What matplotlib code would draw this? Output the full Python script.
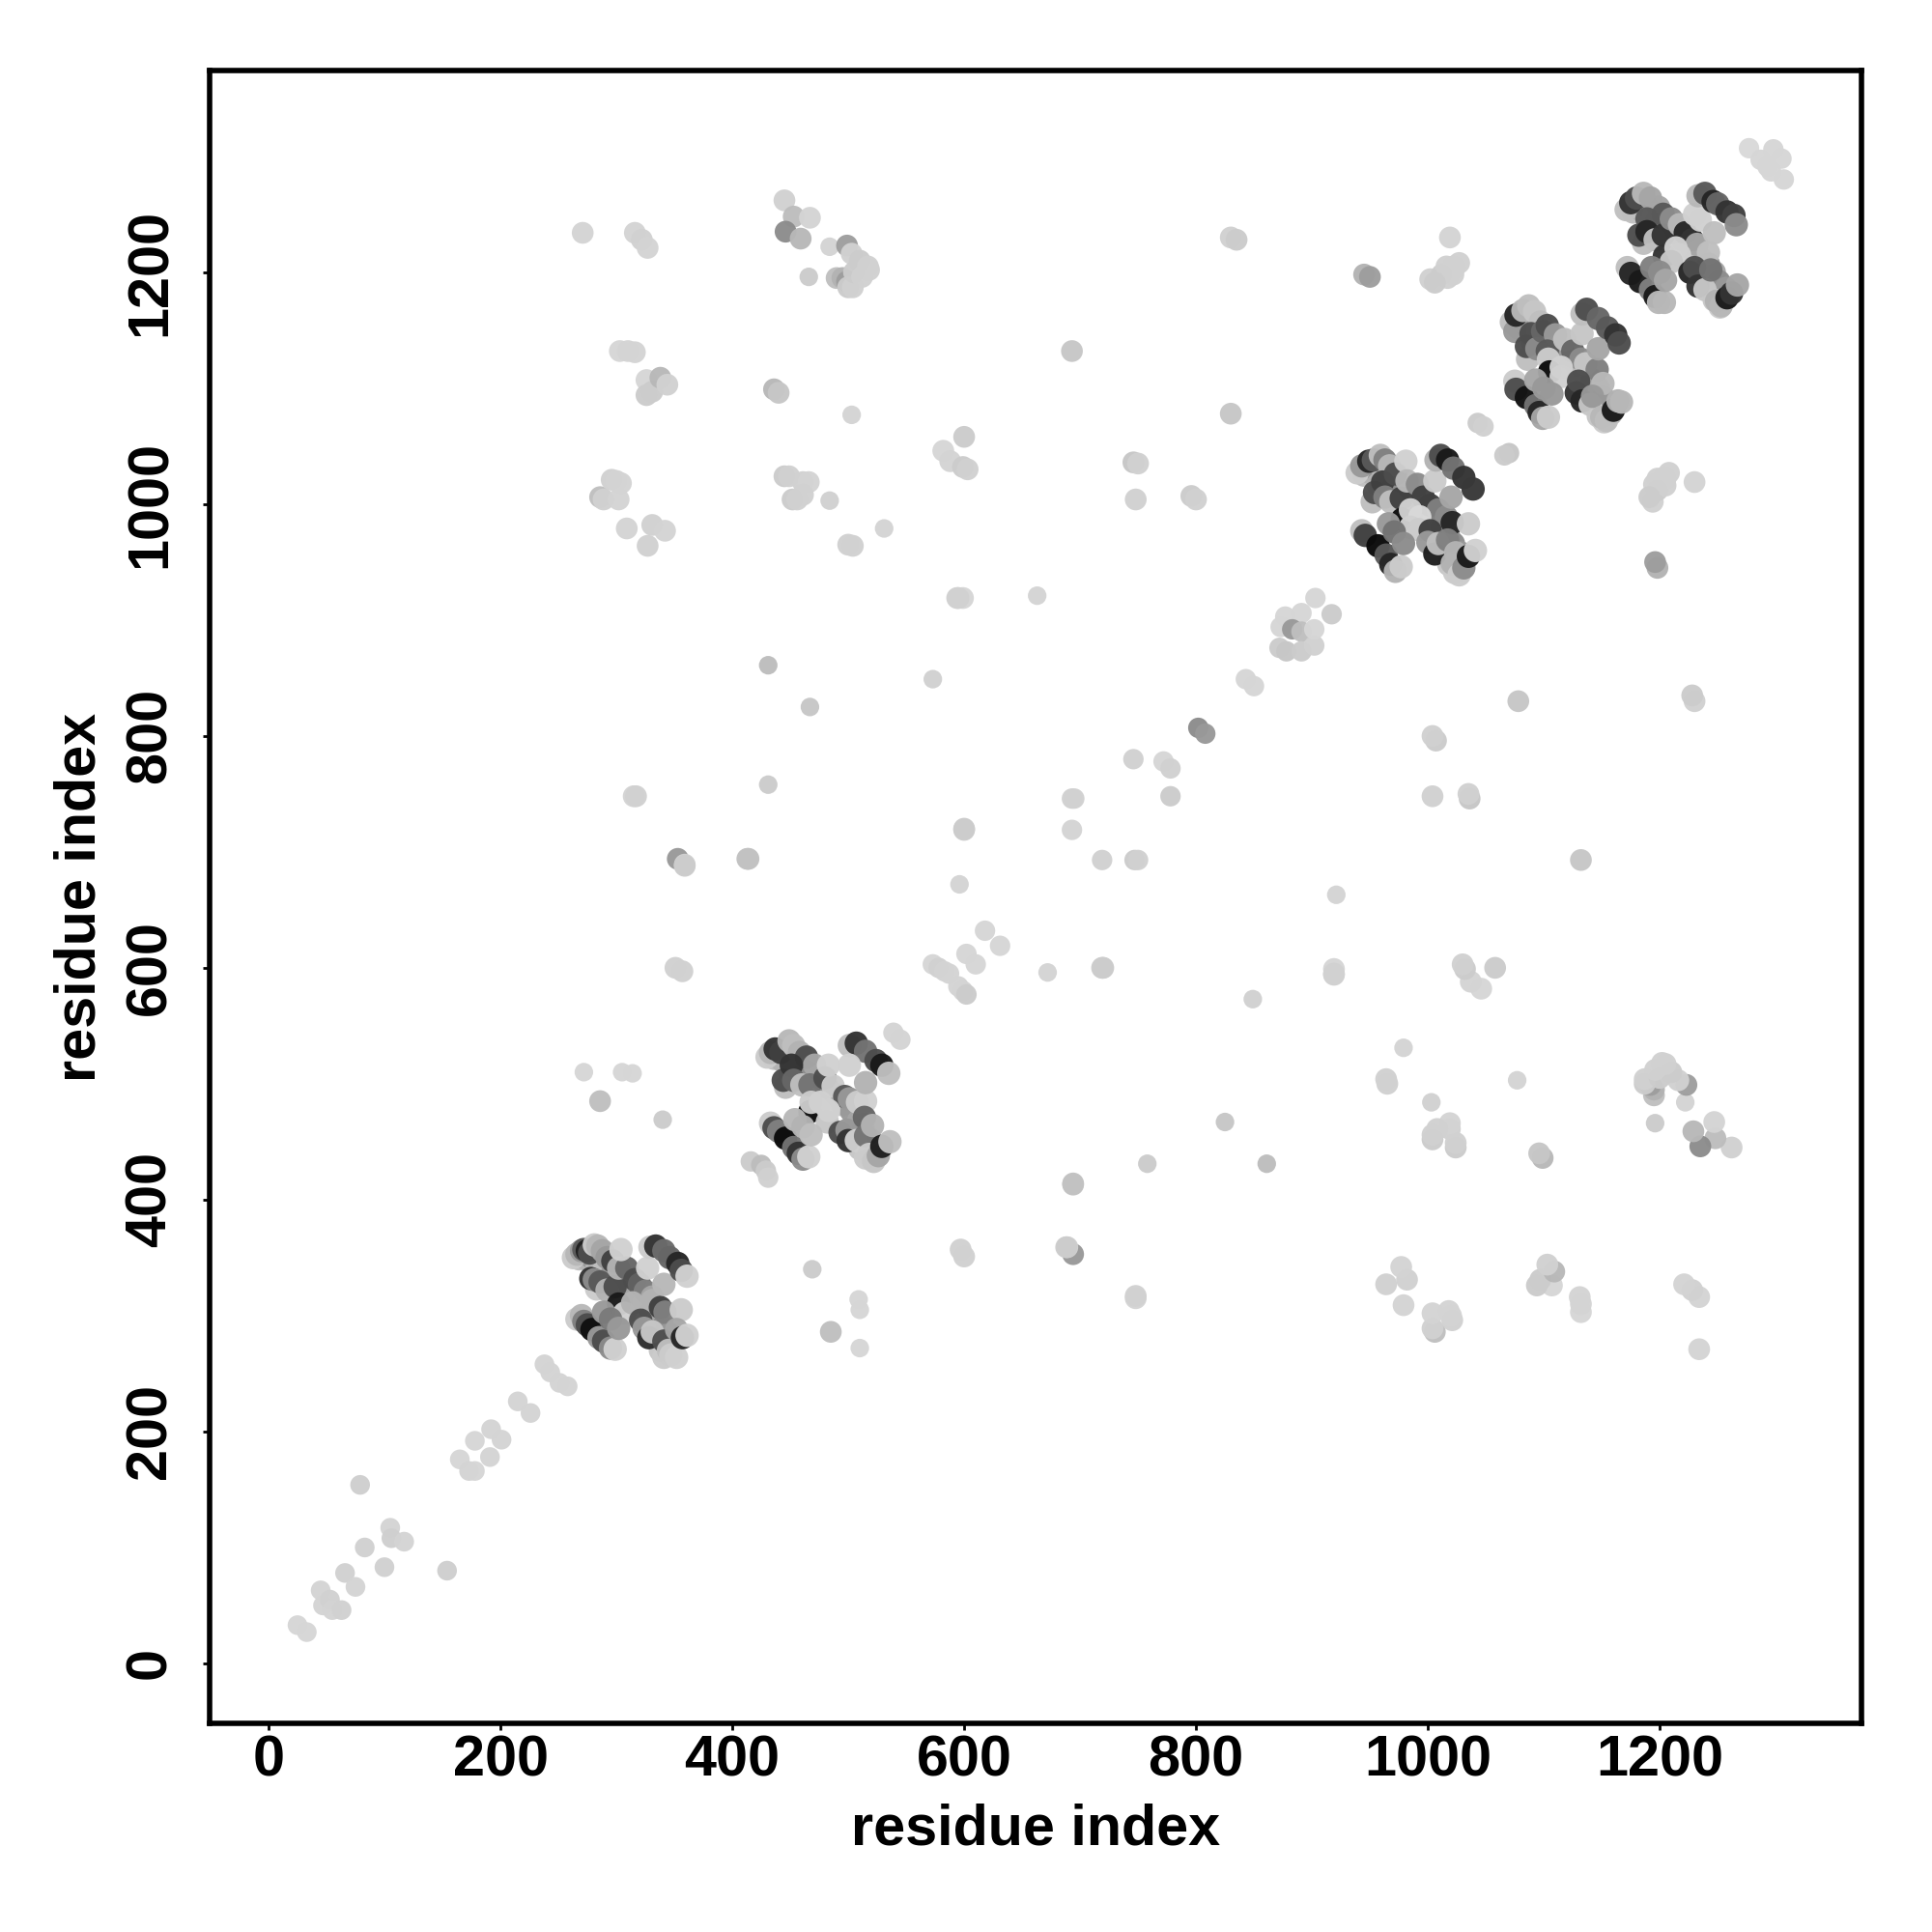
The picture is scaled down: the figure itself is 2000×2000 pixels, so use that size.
import matplotlib
matplotlib.use("Agg")
import matplotlib.pyplot as plt

plt.rcParams['font.family'] = ['Liberation Sans', 'DejaVu Sans']

axis_title = "residue index"
tick_values = [0, 200, 400, 600, 800, 1000, 1200]

# low-index points close to the diagonal (x, y, grey)
near_diagonal_low = [
 (25,33,.84),(33,27,.84),(45,63,.83),(47,50,.83),(53,55,.82),(55,46,.83),(63,46,.82),(66,78,.82),(75,66,.83),
 (79,154,.81),(83,100,.82),(100,83,.82),(105,117,.83),(106,108,.81),(117,105,.83),(154,80,.81),
 (165,176,.84),(173,166,.83),(178,166,.84),(178,192,.84),(192,202,.83),(191,178,.83),(201,193,.83),
 (215,226,.83),(226,216,.83),(238,258,.83),(243,251,.83),(251,242,.83),(258,239,.83),
]
# other points close to the diagonal
near_diagonal = [
 (416,433,.8),(425,430,.74),(429,425,.8),(431,419,.82),(539,544,.83),(545,538,.83),
 (573,603,.84),(578,600,.82),(583,597,.83),(587,595,.83),(595,584,.83),(599,580,.83),(602,577,.8),
 (602,612,.84),(610,603,.84),(618,632,.84),(631,619,.84),
 (693,719,.83),(719,693,.82),(693,746,.82),(695,746,.82),(747,693,.8),(750,693,.82),(746,780,.82),(778,748,.8),(772,778,.84),(778,772,.82),
 (802,807,.55),(808,802,.6),(843,849,.84),(850,843,.84),
 (872,876,.8),(877,903,.84),(878,873,.78),(873,894,.84),(891,906,.84),(883,892,.6),(891,890,.75),(891,873,.8),
 (902,878,.82),(902,892,.84),(903,919,.84),(917,905,.8),
 (1043,1070,.8),(1048,1067,.82),(1070,1044,.78),(1066,1042,.8),
 (1277,1307,.85),(1287,1297,.84),(1293,1291,.84),(1298,1306,.84),(1305,1298,.84),(1307,1280,.84),(1296,1287,.84),
]

# off-diagonal contacts above the diagonal; the map holds each also mirrored
contacts_upper = [
 (271,1234,.83),(316,1234,.83),(322,1228,.82),(327,1221,.83),(303,1132,.84),(310,1132,.83),(316,1131,.83),
 (326,1107,.84),(326,1094,.8),(331,1097,.8),(338,1109,.72),(344,1103,.82),(286,1006,.75),(289,1004,.82),(296,1021,.82),(300,1020,.83),(304,1018,.83),
 (302,1004,.83),(309,979,.83),(331,982,.82),(342,977,.83),(327,964,.82),
 (445,1262,.82),(453,1248,.74),(467,1247,.83),(446,1235,.55),(459,1229,.72),(499,1223,.62),(503,1216,.82),
 (490,1195,.75),(495,1195,.7),(499,1192,.62),(500,1187,.8),(504,1187,.82),(505,1200,.8),(510,1210,.8),(512,1196,.82),(517,1205,.82),(518,1202,.82),
 (436,1099,.72),(440,1096,.78),(445,1024,.8),(449,1024,.82),(461,1019,.82),(466,1019,.83),(452,1004,.8),(456,1004,.82),(461,1008,.82),
 (500,965,.82),(504,964,.82),(582,1046,.84),(600,1058,.8),(588,1037,.83),(599,1032,.8),(603,1030,.82),(594,919,.82),(599,919,.84),
 (693,1132,.78),(746,1036,.78),(750,1035,.82),(748,1004,.82),(796,1007,.8),(800,1004,.82),
 (830,1230,.82),(835,1228,.8),(830,1078,.78),(945,1198,.7),(950,1196,.62),
 (1002,1194,.82),(1012,1198,.8),(1017,1195,.82),(1016,1205,.82),(1022,1205,.82),(1027,1208,.82),(1022,1198,.82),(1019,1230,.83),(1006,1191,.8),(1023,1204,.82),
 (315,748,.83),(353,694,.6),(359,689,.82),(351,600,.82),(357,597,.82),(413,694,.76),(600,720,.8),
 (286,485,.75),(600,719,.8),(414,694,.76),(359,688,.8),(317,748,.82),(595,919,.82),
]
# smaller single contacts above the diagonal, also mirrored
contacts_small = [
 (484,1222,.83),(466,1196,.8),(484,1003,.82),(503,1077,.83),(531,979,.83),(663,921,.83),(431,861,.74),(573,849,.82),
 (467,825,.78),(431,758,.8),(596,672,.83),(272,510,.84),(305,510,.84),(314,509,.84),(340,469,.8),
]

# dense diagonal blocks (x, y, grey), drawn in this order
block_1 = [
 (268,349,.75),(274,349,.7),(279,350,.6),(285,352,.78),(283,340,.7),(290,342,.75),(283,323,.8),(291,330,.65),(296,335,.6),
 (306,333,.55),(312,325,.6),(318,318,.65),(324,311,.75),(330,303,.6),(336,297,.65),(340,290,.55),(346,284,.6),(338,270,.78),(341,264,.8),(347,275,.7),
 (263,350,.8),(266,353,.72),(270,356,.6),(272,357,.35),(275,356,.12),(277,354,.3),(281,361,.8),(284,360,.72),
 (288,356,.65),(292,350,.6),(278,332,.2),(281,331,.55),(286,329,.35),(292,322,.7),(299,325,.3),(297,347,.25),
 (302,341,.7),(309,341,.4),(304,357,.82),(316,331,.3),(320,327,.38),(325,321,.5),(331,316,.65),(331,313,.7),
 (338,307,.25),(342,303,.5),(302,310,.1),(307,302,.82),(314,311,.7),(327,341,.82),(341,327,.72),(356,305,.8),
 (329,359,.8),(334,360,.2),(341,356,.42),(346,350,.4),(353,345,.15),(356,339,.3),(361,334,.82),
 (266,297,.8),(270,300,.72),(272,295,.5),(275,292,.3),(279,288,.06),(285,281,.6),(289,278,.3),(295,272,.55),(299,271,.82),
 (289,303,.6),(295,297,.48),(302,289,.6),(321,296,.3),(324,289,.6),(328,281,.18),(331,286,.78),(341,278,.3),
 (345,270,.75),(347,266,.8),(352,264,.82),(352,288,.65),(357,281,.15),(361,283,.82),
]
block_2 = [
 (436,522,.75),(443,520,.7),(448,524,.6),(456,520,.75),(450,510,.7),(458,512,.65),(446,497,.75),(459,505,.6),(465,510,.55),
 (474,506,.55),(482,497,.6),(489,491,.65),(495,482,.75),(503,476,.6),(509,468,.65),(513,460,.55),(519,452,.6),(510,444,.78),(515,436,.8),(522,445,.7),
 (430,523,.8),(433,527,.72),(437,530,.2),(442,527,.25),(449,537,.72),(453,533,.75),(458,527,.7),(464,523,.3),(471,516,.65),
 (444,503,.3),(451,516,.2),(453,503,.4),(460,499,.75),(467,499,.45),(480,505,.3),(483,516,.82),(487,498,.8),
 (497,489,.35),(501,487,.6),(508,484,.8),(515,485,.82),(467,476,.05),(468,484,.8),(476,484,.82),(482,467,.78),(483,477,.82),
 (501,533,.75),(507,535,.2),(515,528,.45),(524,520,.3),(529,516,.1),(535,509,.75),(501,516,.82),(515,501,.7),
 (433,466,.8),(436,462,.3),(440,459,.5),(446,453,.04),(453,445,.45),(457,440,.2),(461,435,.55),(466,437,.82),
 (454,469,.72),(461,463,.7),(468,456,.75),(493,458,.3),(499,460,.6),(500,451,.2),(507,451,.82),(514,471,.4),
 (515,455,.45),(521,464,.7),(518,439,.8),(522,433,.78),(526,438,.65),(529,446,.12),(536,450,.75),
]
block_3 = [
 (945,1025,.75),(951,1027,.7),(956,1029,.6),(962,1027,.75),(957,1017,.7),(965,1019,.65),(952,1002,.75),(965,1012,.6),(971,1016,.55),
 (984,1010,.55),(992,1001,.6),(999,993,.65),(1005,986,.75),(1012,979,.6),(1018,972,.65),(1022,966,.55),(1028,958,.6),(1018,948,.78),(1023,941,.8),(1029,950,.7),
 (939,1027,.8),(943,1033,.6),(949,1037,.15),(953,1038,.35),(959,1042,.75),(963,1038,.5),(967,1033,.72),
 (954,1010,.3),(961,1019,.25),(963,1006,.5),(968,1002,.75),(977,1005,.25),(972,1026,.3),(981,1037,.82),(982,1020,.72),
 (991,1017,.55),(996,1006,.25),(1002,999,.25),(1009,995,.5),(1016,989,.55),(1021,984,.15),(978,987,.05),(985,995,.82),
 (993,989,.85),(985,980,.82),(992,978,.8),(1006,1020,.8),(1020,1006,.65),(1035,983,.8),
 (1007,1038,.7),(1011,1042,.3),(1017,1038,.1),(1022,1031,.45),(1031,1023,.2),(1039,1013,.22),
 (943,977,.75),(946,973,.25),(957,964,.04),(964,956,.35),(968,948,.15),(972,942,.7),(977,946,.8),
 (966,983,.6),(971,976,.45),(979,966,.55),(1002,977,.25),(1000,967,.6),(1006,957,.12),(1009,966,.75),(1017,969,.5),
 (1024,958,.7),(1021,949,.7),(1027,939,.8),(1031,945,.55),(1035,955,.1),(1041,960,.82),
]
block_4 = [
 (1078,1152,.75),(1083,1155,.7),(1089,1158,.6),(1095,1150,.75),(1090,1140,.7),(1097,1142,.65),(1086,1125,.75),(1098,1136,.6),(1105,1140,.55),
 (1112,1135,.55),(1120,1127,.6),(1128,1120,.65),(1134,1112,.75),(1142,1107,.6),(1147,1100,.65),(1151,1092,.55),(1157,1085,.6),(1147,1076,.78),(1152,1071,.8),(1158,1078,.7),
 (1072,1157,.75),(1075,1149,.6),(1076,1163,.15),(1082,1167,.72),(1087,1171,.75),(1092,1166,.78),(1097,1157,.75),
 (1085,1136,.3),(1089,1147,.3),(1094,1134,.55),(1099,1149,.4),(1103,1154,.3),(1110,1146,.6),(1103,1132,.35),(1104,1125,.8),
 (1118,1142,.75),(1125,1132,.4),(1133,1147,.78),(1132,1125,.55),(1136,1121,.78),(1146,1116,.5),(1147,1134,.65),
 (1105,1114,.05),(1115,1118,.82),(1115,1110,.82),(1151,1104,.72),
 (1133,1164,.75),(1137,1168,.3),(1147,1160,.4),(1155,1152,.35),(1162,1146,.2),(1165,1139,.3),
 (1075,1106,.8),(1076,1099,.3),(1085,1092,.07),(1093,1085,.45),(1096,1079,.15),(1099,1074,.65),(1104,1075,.8),
 (1093,1107,.65),(1100,1100,.6),(1107,1095,.6),(1128,1096,.2),(1130,1106,.3),(1133,1089,.15),(1140,1086,.78),(1142,1093,.6),
 (1150,1075,.72),(1154,1072,.75),(1160,1081,.1),(1164,1089,.7),(1167,1088,.72),
]
block_5 = [
 (1177,1252,.75),(1183,1254,.7),(1189,1257,.6),(1195,1250,.75),(1190,1240,.7),(1197,1243,.65),(1186,1225,.75),(1198,1236,.6),(1205,1240,.55),
 (1212,1236,.55),(1220,1228,.6),(1228,1220,.65),(1235,1212,.75),(1242,1207,.6),(1247,1200,.65),(1251,1192,.55),(1257,1186,.6),(1247,1176,.78),(1252,1170,.8),(1258,1178,.7),
 (1171,1254,.75),(1175,1260,.2),(1180,1264,.3),(1186,1268,.72),(1192,1264,.65),(1199,1256,.65),(1203,1250,.35),
 (1182,1232,.3),(1189,1246,.35),(1189,1235,.15),(1196,1228,.75),(1203,1232,.2),(1210,1246,.55),(1204,1214,.2),
 (1217,1241,.72),(1222,1234,.15),(1228,1228,.2),(1232,1224,.65),(1235,1245,.82),(1230,1250,.82),(1247,1234,.75),
 (1214,1221,.82),(1217,1215,.82),(1210,1209,.78),(1242,1217,.75),
 (1233,1266,.72),(1239,1268,.35),(1246,1261,.15),(1250,1259,.4),(1258,1252,.2),(1264,1249,.25),(1266,1241,.55),
 (1172,1204,.75),(1175,1199,.15),(1183,1192,.1),(1192,1185,.5),(1196,1179,.1),(1199,1174,.72),(1204,1174,.72),
 (1193,1204,.5),(1200,1200,.55),(1205,1193,.65),(1226,1200,.15),(1230,1204,.3),(1233,1188,.2),(1239,1185,.78),(1244,1202,.45),
 (1249,1175,.7),(1253,1171,.72),(1258,1178,.1),(1262,1182,.2),(1267,1189,.65),
]

mirrored = [(y, x, g) for x, y, g in contacts_upper]
mirrored_small = [(y, x, g) for x, y, g in contacts_small]
groups = [
    (near_diagonal_low, 54),
    (near_diagonal, 58),
    (contacts_small + mirrored_small, 48),
    (contacts_upper + mirrored, 66),
    (block_1 + block_2 + block_3 + block_4 + block_5, 76),
]

fig = plt.figure(figsize=(10, 10), dpi=200)
ax = fig.add_axes([217/2000, 1 - 1784/2000, (1927-217)/2000, (1784-73)/2000])
for points, size in groups:
    ax.scatter([p[0] for p in points], [p[1] for p in points],
               c=[(p[2], p[2], p[2]) for p in points], s=size, linewidths=0, alpha=0.97, zorder=2)

ax.set_xlim(-50.8, 1374)
ax.set_ylim(-51.7, 1374)
ax.set_xticks(tick_values)
ax.set_yticks(tick_values)
for s in ax.spines.values():
    s.set_linewidth(2.0)
ax.tick_params(axis='x', length=2.6, width=1.0, labelsize=21.4, pad=1.5)
ax.tick_params(axis='y', length=2.6, width=1.0, labelsize=21.4, pad=9.5)
for t in ax.get_xticklabels():
    t.set_fontweight('bold')
for t in ax.get_yticklabels():
    t.set_fontweight('bold')
    t.set_rotation(90)
    t.set_rotation_mode('anchor')
    t.set_ha('center')
    t.set_va('bottom')
ax.set_xlabel(axis_title, fontsize=21.4, fontweight='bold')
ax.set_ylabel(axis_title, fontsize=21.4, fontweight='bold')
ax.xaxis.set_label_coords(0.5, -0.048)
ax.yaxis.set_label_coords(-0.0625, 0.5)

fig.savefig("out.png", dpi=200)
